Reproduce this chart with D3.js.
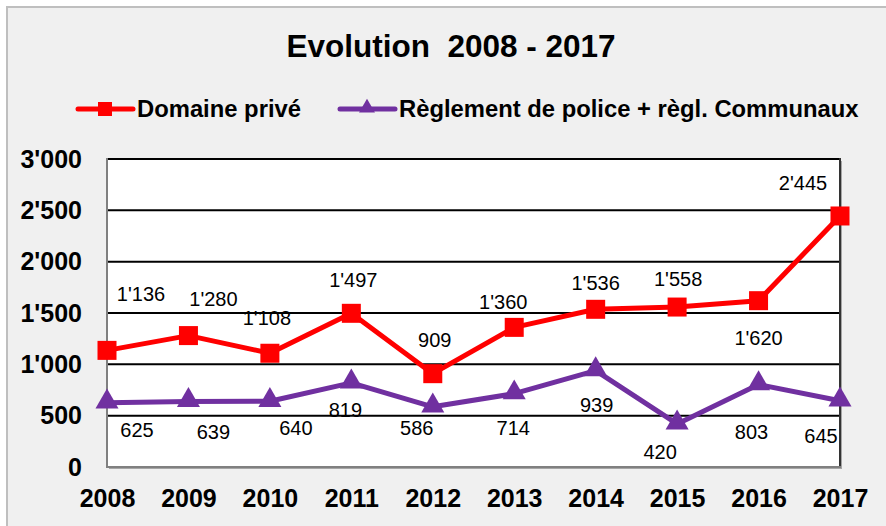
<!DOCTYPE html>
<html>
<head>
<meta charset="utf-8">
<script src="https://cdn.jsdelivr.net/npm/d3@7"></script>
<style>
  html, body { margin: 0; padding: 0; background: #ffffff; }
  svg { display: block; font-family: "Liberation Sans", Arial, sans-serif; }
</style>
</head>
<body>
<svg id="chart" width="886" height="526"></svg>
<script>
// Years on the x axis
const years = ["2008", "2009", "2010", "2011", "2012", "2013", "2014", "2015", "2016", "2017"];
// Series values
const domainePrive = [1136, 1280, 1108, 1497, 909, 1360, 1536, 1558, 1620, 2445];
const reglementPolice = [625, 639, 640, 819, 586, 714, 939, 420, 803, 645];
// Y axis ticks
const yTicks = [0, 500, 1000, 1500, 2000, 2500, 3000];
// Series names
const seriesNames = ["Domaine privé", "Règlement de police + règl. Communaux"];

// Value-label placement relative to each point (pixels)
const privOffsets = [[34, -56], [25, -37], [-3, -35], [2, -33], [2, -34], [-11, -25], [0, -26], [1, -28], [0, 37], [-37, -33]];
const polOffsets = [[30, 27], [25, 31], [26, 27], [-6, 27], [-16, 21], [-1, 34], [1, 34], [-17, 28], [-7, 47], [-19, 35]];

const RED = "#ff0000";
const PURPLE = "#7030a0";

const fmt = d3.formatLocale({ thousands: "'", grouping: [3], decimal: ".", currency: ["", ""] }).format(",");

const svg = d3.select("#chart");

// Chart frame
svg.append("rect")
  .attr("x", 7).attr("y", 7).attr("width", 900).attr("height", 540)
  .attr("fill", "#f0f0f0").attr("stroke", "#bfbfbf").attr("stroke-width", 2);

const plot = { left: 107, right: 840, top: 159, bottom: 467 };

const x = d3.scalePoint().domain(years).range([plot.left, plot.right]);
const y = d3.scaleLinear().domain([0, 3000]).range([plot.bottom, plot.top]);

// Plot area with a soft shadow
svg.append("rect")
  .attr("x", plot.left + 2).attr("y", plot.top + 2)
  .attr("width", plot.right - plot.left).attr("height", plot.bottom - plot.top)
  .attr("fill", "#a6a6a6");
svg.append("rect")
  .attr("x", plot.left).attr("y", plot.top)
  .attr("width", plot.right - plot.left).attr("height", plot.bottom - plot.top)
  .attr("fill", "#ffffff");

// Horizontal gridlines
svg.append("g").selectAll("line")
  .data(yTicks.filter(t => t > 0))
  .join("line")
  .attr("x1", plot.left).attr("x2", plot.right)
  .attr("y1", d => y(d)).attr("y2", d => y(d))
  .attr("stroke", "#000000").attr("stroke-width", 2);

// Right border of the plot area
svg.append("line")
  .attr("x1", plot.right).attr("x2", plot.right)
  .attr("y1", plot.top - 1).attr("y2", plot.bottom)
  .attr("stroke", "#333333").attr("stroke-width", 2);

// Axis lines
svg.append("line")
  .attr("x1", plot.left).attr("x2", plot.left)
  .attr("y1", plot.top - 1).attr("y2", plot.bottom + 1)
  .attr("stroke", "#808080").attr("stroke-width", 2);
svg.append("line")
  .attr("x1", plot.left - 1).attr("x2", plot.right + 1)
  .attr("y1", plot.bottom).attr("y2", plot.bottom)
  .attr("stroke", "#808080").attr("stroke-width", 2);

// Y axis labels
const yAxis = svg.append("g")
  .attr("transform", `translate(${plot.left},0)`)
  .call(d3.axisLeft(y).tickValues(yTicks).tickFormat(fmt).tickSize(0).tickPadding(25));
yAxis.select(".domain").remove();
yAxis.selectAll("text")
  .attr("font-family", "'Liberation Sans', Arial, sans-serif")
  .attr("font-size", 25).attr("font-weight", "bold").attr("fill", "#000");

// X axis labels
const xAxis = svg.append("g")
  .attr("transform", `translate(0,${plot.bottom})`)
  .call(d3.axisBottom(x).tickSize(0).tickPadding(22));
xAxis.select(".domain").remove();
xAxis.selectAll("text")
  .attr("font-family", "'Liberation Sans', Arial, sans-serif")
  .attr("font-size", 25).attr("font-weight", "bold").attr("fill", "#000");

const line = d3.line().x((d, i) => x(years[i])).y(d => y(d));

// Series lines
svg.append("path").datum(reglementPolice)
  .attr("d", line).attr("fill", "none")
  .attr("stroke", PURPLE).attr("stroke-width", 5).attr("stroke-linejoin", "round");
svg.append("path").datum(domainePrive)
  .attr("d", line).attr("fill", "none")
  .attr("stroke", RED).attr("stroke-width", 5).attr("stroke-linejoin", "round");

// Markers
const tri = d3.symbol().type(d3.symbolTriangle).size(230);
svg.append("g").selectAll("path")
  .data(reglementPolice)
  .join("path")
  .attr("d", tri)
  .attr("transform", (d, i) => `translate(${x(years[i])},${y(d) - 1})`)
  .attr("fill", PURPLE);

const sq = 19;
svg.append("g").selectAll("rect")
  .data(domainePrive)
  .join("rect")
  .attr("x", (d, i) => x(years[i]) - sq / 2)
  .attr("y", d => y(d) - sq / 2)
  .attr("width", sq).attr("height", sq)
  .attr("fill", RED);

// Value labels
function valueLabels(values, offsets) {
  svg.append("g").selectAll("text")
    .data(values)
    .join("text")
    .attr("x", (d, i) => x(years[i]) + offsets[i][0])
    .attr("y", (d, i) => y(d) + offsets[i][1])
    .attr("dy", "0.35em")
    .attr("text-anchor", "middle")
    .attr("font-size", 20)
    .attr("fill", "#000")
    .text(d => fmt(d));
}
valueLabels(domainePrive, privOffsets);
valueLabels(reglementPolice, polOffsets);

// Title
svg.append("text")
  .attr("x", 451).attr("y", 57)
  .attr("text-anchor", "middle")
  .attr("font-size", 31.5).attr("font-weight", "bold")
  .attr("xml:space", "preserve")
  .style("white-space", "pre")
  .text("Evolution  2008 - 2017");

// Legend
const legY = 109;
const legend = svg.append("g");
legend.append("line")
  .attr("x1", 78).attr("x2", 133).attr("y1", legY).attr("y2", legY)
  .attr("stroke", RED).attr("stroke-width", 5).attr("stroke-linecap", "round");
legend.append("rect")
  .attr("x", 98).attr("y", legY - 7).attr("width", 14).attr("height", 14)
  .attr("fill", RED);
legend.append("text")
  .attr("x", 137).attr("y", 117)
  .attr("font-size", 23.8).attr("font-weight", "bold")
  .text(seriesNames[0]);

legend.append("line")
  .attr("x1", 340).attr("x2", 395).attr("y1", legY).attr("y2", legY)
  .attr("stroke", PURPLE).attr("stroke-width", 5).attr("stroke-linecap", "round");
legend.append("path")
  .attr("d", d3.symbol().type(d3.symbolTriangle).size(110))
  .attr("transform", `translate(367,${legY - 1})`)
  .attr("fill", PURPLE);
legend.append("text")
  .attr("x", 399).attr("y", 117)
  .attr("font-size", 23.8).attr("font-weight", "bold")
  .text(seriesNames[1]);
</script>
</body>
</html>
